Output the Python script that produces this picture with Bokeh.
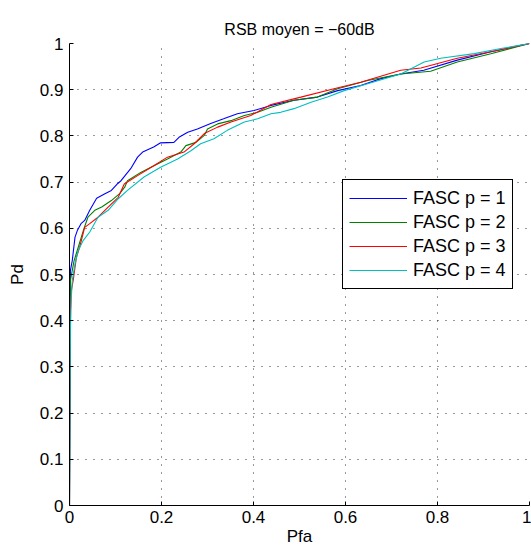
from bokeh.plotting import figure
from bokeh.models import Range1d, FixedTicker
from bokeh.embed import file_html
from bokeh.resources import INLINE

title_text = "RSB moyen = \u221260dB"
x_label = "Pfa"
y_label = "Pd"
series_names = ["FASC p = 1", "FASC p = 2", "FASC p = 3", "FASC p = 4"]
series_colors = ["#0000ff", "#008000", "#ff0000", "#00bfbf"]

x_ticks = [0, 0.2, 0.4, 0.6, 0.8, 1]
x_tick_labels = ["0", "0.2", "0.4", "0.6", "0.8", "1"]
y_ticks = [0, 0.1, 0.2, 0.3, 0.4, 0.5, 0.6, 0.7, 0.8, 0.9, 1]
y_tick_labels = ["0", "0.1", "0.2", "0.3", "0.4", "0.5", "0.6", "0.7", "0.8", "0.9", "1"]

pfa_p1 = [0, 0.002, 0.006, 0.012, 0.017, 0.025, 0.033, 0.044, 0.059, 0.077, 0.091, 0.105, 0.112,
          0.133, 0.148, 0.159, 0.183, 0.198, 0.227, 0.238, 0.257, 0.278, 0.307, 0.335, 0.365,
          0.401, 0.438, 0.488, 0.539, 0.583, 0.633, 0.677, 0.720, 0.770, 0.843, 0.916, 1.0]
pd_p1 = [0, 0.509, 0.530, 0.581, 0.595, 0.610, 0.617, 0.639, 0.665, 0.675, 0.682, 0.697, 0.703,
         0.729, 0.754, 0.765, 0.776, 0.785, 0.786, 0.797, 0.808, 0.815, 0.827, 0.837, 0.848,
         0.855, 0.866, 0.877, 0.884, 0.898, 0.909, 0.924, 0.934, 0.942, 0.964, 0.982, 1.0]

pfa_p2 = [0, 0.002, 0.006, 0.010, 0.019, 0.030, 0.040, 0.055, 0.070, 0.091, 0.109, 0.120, 0.126,
          0.155, 0.177, 0.213, 0.242, 0.253, 0.275, 0.293, 0.300, 0.322, 0.351, 0.380, 0.409,
          0.438, 0.488, 0.539, 0.583, 0.648, 0.720, 0.785, 0.843, 0.916, 1.0]
pd_p2 = [0, 0.487, 0.509, 0.530, 0.559, 0.595, 0.624, 0.639, 0.646, 0.660, 0.675, 0.689, 0.703,
         0.721, 0.732, 0.750, 0.765, 0.779, 0.786, 0.801, 0.815, 0.826, 0.833, 0.844, 0.851,
         0.862, 0.877, 0.884, 0.902, 0.920, 0.934, 0.940, 0.960, 0.978, 1.0]

pfa_p3 = [0, 0.001, 0.004, 0.008, 0.015, 0.022, 0.033, 0.044, 0.062, 0.084, 0.106, 0.119, 0.148,
          0.184, 0.213, 0.249, 0.271, 0.293, 0.322, 0.351, 0.394, 0.438, 0.503, 0.575, 0.633,
          0.720, 0.764, 0.843, 0.916, 1.0]
pd_p3 = [0, 0.400, 0.465, 0.487, 0.537, 0.559, 0.602, 0.610, 0.624, 0.646, 0.667, 0.696, 0.714,
         0.736, 0.754, 0.765, 0.783, 0.805, 0.819, 0.830, 0.844, 0.868, 0.884, 0.902, 0.916,
         0.942, 0.947, 0.968, 0.982, 1.0]

pfa_p4 = [0, 0.001, 0.002, 0.004, 0.006, 0.012, 0.019, 0.030, 0.044, 0.062, 0.084, 0.106, 0.126,
          0.162, 0.198, 0.235, 0.264, 0.285, 0.314, 0.343, 0.380, 0.409, 0.438, 0.459, 0.488,
          0.525, 0.561, 0.597, 0.648, 0.720, 0.771, 0.807, 0.880, 0.938, 1.0]
pd_p4 = [0, 0.256, 0.379, 0.451, 0.487, 0.523, 0.552, 0.574, 0.592, 0.624, 0.639, 0.664, 0.682,
         0.711, 0.732, 0.750, 0.768, 0.783, 0.794, 0.812, 0.830, 0.837, 0.848, 0.851, 0.859,
         0.873, 0.884, 0.898, 0.913, 0.934, 0.960, 0.968, 0.978, 0.989, 1.0]

series_x = [pfa_p1, pfa_p2, pfa_p3, pfa_p4]
series_y = [pd_p1, pd_p2, pd_p3, pd_p4]

FONT = "Liberation Sans"

p = figure(width=531, height=550, output_backend="svg", toolbar_location=None,
           x_range=Range1d(0, 1), y_range=Range1d(0, 1),
           min_border_left=69, min_border_right=2, min_border_top=43, min_border_bottom=45)
p.outline_line_color = None
p.background_fill_color = "white"
p.border_fill_color = "white"

p.title.text = title_text
p.title.align = "center"
p.title.vertical_align = "middle"
p.title.text_font = FONT
p.title.text_font_size = "16px"
p.title.text_font_style = "normal"
p.title.text_color = "black"

for xs, ys, c, n in zip(series_x, series_y, series_colors, series_names):
    p.line(xs, ys, line_color=c, line_width=1.1, legend_label=n)

for ax in (p.xaxis[0], p.yaxis[0]):
    ax.axis_line_color = "black"
    ax.axis_line_width = 1
    ax.major_tick_in = 4
    ax.major_tick_out = 0
    ax.minor_tick_in = 0
    ax.minor_tick_out = 0
    ax.major_tick_line_color = "black"
    ax.major_label_text_font = FONT
    ax.major_label_text_font_size = "17px"
    ax.major_label_text_color = "black"
    ax.axis_label_text_font = FONT
    ax.axis_label_text_font_size = "17px"
    ax.axis_label_text_font_style = "normal"
    ax.axis_label_text_color = "black"

p.xaxis.ticker = FixedTicker(ticks=x_ticks)
p.xaxis.major_label_overrides = dict(zip(x_ticks, x_tick_labels))
p.yaxis.ticker = FixedTicker(ticks=y_ticks)
p.yaxis.major_label_overrides = dict(zip(y_ticks, y_tick_labels))
p.xaxis.axis_label = x_label
p.yaxis.axis_label = y_label
p.xaxis.major_label_standoff = 5
p.xaxis.axis_label_standoff = 1
p.yaxis.major_label_standoff = 6
p.yaxis.axis_label_standoff = 10

p.xgrid.ticker = FixedTicker(ticks=x_ticks)
p.ygrid.ticker = FixedTicker(ticks=y_ticks)
for g in (p.xgrid[0], p.ygrid[0]):
    g.grid_line_color = "black"
    g.grid_line_alpha = 0.8
    g.grid_line_dash = "1 7"
    g.grid_line_width = 1

legend = p.legend[0]
legend.location = (273, 216)
legend.orientation = "vertical"
legend.label_text_font = FONT
legend.label_text_font_size = "18px"
legend.label_text_color = "black"
legend.border_line_color = "black"
legend.border_line_width = 1
legend.border_line_alpha = 1
legend.background_fill_color = "white"
legend.background_fill_alpha = 1
legend.padding = 6
legend.spacing = 0
legend.margin = 0
legend.label_height = 24
legend.glyph_height = 24
legend.glyph_width = 58
legend.label_standoff = 6

open("out.html", "w").write(file_html(p, INLINE))
